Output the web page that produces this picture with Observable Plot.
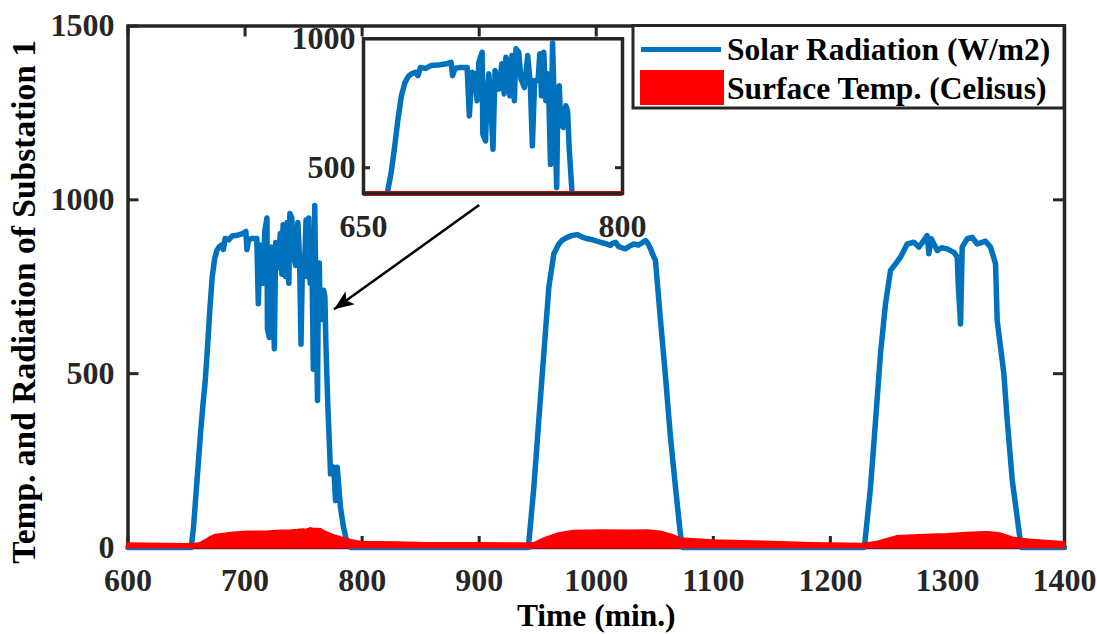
<!DOCTYPE html>
<html>
<head>
<meta charset="utf-8">
<script src="https://cdn.jsdelivr.net/npm/d3@7"></script>
<script src="https://cdn.jsdelivr.net/npm/@observablehq/plot@0.6"></script>
<style>
  html, body { margin: 0; padding: 0; background: #fff; overflow: hidden; }
  #wrap { position: relative; width: 1097px; height: 634px; }
  #inset { position: absolute; left: 280px; top: 10px; }
</style>
</head>
<body>
<div id="wrap"><div id="main"></div><div id="inset"></div></div>
<script>
// ---- data: solar radiation (W/m2) over time (min.) ----
const solarTime = [
  600, 654, 656, 658, 660, 662, 664, 666, 668, 670, 672, 674, 676, 678, 680, 681.5, 683, 686, 689, 693,
  698, 700.7, 701.6, 703, 706, 710, 711.3, 712.9, 714.4, 715.8, 716.8, 718.7, 719.1, 720.7, 721.7, 722.6,
  723.6, 725, 726.2, 727.2, 728.5, 730.1, 731.5, 732.5, 734, 734.8, 736, 737.4, 738.3, 739.9, 741.2, 743.2,
  745.1, 746.6, 747.8, 749.1, 751.1, 752.1, 753.1, 754.4, 755.6, 757, 758.3, 759.5, 760.9, 761.9, 762.5,
  763.4, 764.2, 765.8, 767.2, 768.2, 769.1, 770.7, 772, 773, 775.8, 777.3, 778.7, 781.5, 784, 786, 788, 790,
  942, 946.7, 950.9, 955.2, 959.5, 963.8, 968, 971, 975.2, 979, 983.7, 988, 992.3, 997, 1003.6, 1008, 1012.2,
  1014, 1016.5, 1019, 1022, 1025, 1028, 1032.1, 1036, 1040, 1042.1, 1044, 1046.4, 1048, 1050.6, 1054.9,
  1059.2, 1063.4, 1067.7, 1072, 1074,
  1229, 1234.3, 1238.6, 1242.8, 1247.1, 1251.4, 1255.7, 1259.9, 1265.6, 1271.3, 1275.6, 1279.8, 1282.7,
  1284.1, 1286.2, 1291.3, 1295, 1299.8, 1305.5, 1308.4, 1309.2, 1311.2, 1312.6, 1316.9, 1321.2, 1325.4,
  1332.5, 1336.8, 1341.1, 1342.5, 1348.2, 1351.1, 1355.4, 1361.8, 1363, 1400
];
const solarValue = [
  0, 0, 60, 150, 240, 330, 410, 480, 580, 690, 780, 830, 855, 865, 870, 857, 889, 885, 896, 898,
  903, 909, 857, 885, 889, 889, 701, 870, 864, 760, 909, 948, 630, 604, 811, 864,
  773, 572, 877, 825, 805, 903, 786, 928, 903, 779, 935, 760, 961, 948, 844, 811,
  935, 825, 585, 838, 838, 942, 779, 948, 760, 864, 513, 984, 643, 423, 734,
  818, 669, 656, 740, 721, 578, 409, 300, 212, 231, 135, 231, 116, 60, 30, 10, 0,
  0, 173, 365, 557, 749, 845, 873, 884, 892, 897, 900, 893, 888, 885, 878, 874, 869,
  875, 878, 866, 862, 859, 866, 873, 870, 878, 883, 875, 859, 845, 825, 653,
  490, 317, 173, 35, 0,
  0, 173, 365, 557, 701, 797, 816, 835, 873, 878, 864, 883, 897,
  845, 888, 854, 862, 859, 849, 835, 758, 643, 864, 888, 892, 873,
  881, 864, 816, 653, 500, 365, 193, 30, 0, 0
];

// ---- data: surface temperature (Celsius) over time (min.) ----
const tempTime = [
  600, 650, 656, 662, 670, 675, 690, 702, 720, 731, 740, 745, 750, 752, 756, 758, 762, 765, 768, 775,
  785, 795, 800, 830, 856, 900, 941, 948, 956, 968, 981, 1004, 1030, 1044, 1055, 1065, 1072, 1100,
  1150, 1185, 1228, 1240, 1257, 1280, 1300, 1320, 1335, 1345, 1356, 1370, 1400
];
const tempValue = [
  9, 7, 7, 10, 26, 34, 40, 43, 44, 46, 47, 48, 50, 48, 53, 52, 51, 50, 44, 34,
  24, 16, 14, 12, 10, 10, 9, 11, 24, 38, 45, 47, 46, 47, 43, 34, 24, 18,
  14, 10, 8, 14, 30, 34, 36, 40, 42, 38, 26, 20, 13
];

// ---- axes ----
const xTicks = [600, 700, 800, 900, 1000, 1100, 1200, 1300, 1400];
const yTicks = [0, 500, 1000, 1500];
const insetXTicks = [650, 800];
const insetYTicks = [500, 1000];

// ---- annotation arrow pointing from the zoom box to the first day ----
const arrowFrom = [900, 985];
const arrowTo = [776, 685];

const solar = solarTime.map((t, i) => ({t, v: solarValue[i]}));
const temp = tempTime.map((t, i) => ({t, v: tempValue[i]}));

const W = 1097, H = 634;
const mL = 127.5, mR = 33, mT = 25.5, mB = 87;
const innerW = W - mL - mR, innerH = H - mT - mB;
const tickLen = 11;
const axisColor = "#262626";
const blue = "#0072BD";
const font = "'Liberation Serif', 'Times New Roman', serif";
const tickFont = 32;
const plain = d => String(d);

const main = Plot.plot({
  width: W, height: H,
  marginLeft: mL, marginRight: mR, marginTop: mT, marginBottom: mB,
  style: `font-family: ${font}; font-weight: bold; background: transparent; color: ${axisColor}; overflow: visible;`,
  x: {domain: [600, 1400]},
  y: {domain: [0, 1500]},
  marks: [
    Plot.frame({stroke: axisColor, strokeWidth: 3.5}),
    // inward tick marks on all four sides
    Plot.ruleX(xTicks, {x: d => d, insetTop: innerH - tickLen, stroke: axisColor, strokeWidth: 3}),
    Plot.ruleX(xTicks, {x: d => d, insetBottom: innerH - tickLen, stroke: axisColor, strokeWidth: 3}),
    Plot.ruleY(yTicks, {y: d => d, insetRight: innerW - tickLen, stroke: axisColor, strokeWidth: 3}),
    Plot.ruleY(yTicks, {y: d => d, insetLeft: innerW - tickLen, stroke: axisColor, strokeWidth: 3}),
    Plot.lineY(solar, {x: "t", y: "v", stroke: blue, strokeWidth: 5.5, strokeLinejoin: "round", strokeLinecap: "round"}),
    Plot.areaY(temp, {x: "t", y: "v", fill: "#ff0000", stroke: "#ff0000", strokeWidth: 3}),
    Plot.axisX(xTicks, {tickSize: 0, tickPadding: 21, fontSize: tickFont, label: null, tickFormat: plain}),
    Plot.axisY(yTicks, {tickSize: 0, tickPadding: 13.5, fontSize: tickFont, label: null, tickFormat: plain}),
    Plot.text(["Time (min.)"], {frameAnchor: "bottom", lineAnchor: "middle", dy: 68, fontSize: 31.5, fill: "#000"}),
    Plot.text(["Temp. and Radiation of Substation 1"], {frameAnchor: "left", textAnchor: "middle", lineAnchor: "middle", rotate: -90, dx: -104, dy: 15, fontSize: 33.5, fill: "#000"}),
    Plot.link([{x1: arrowFrom[0], y1: arrowFrom[1], x2: arrowTo[0], y2: arrowTo[1]}],
      {x1: "x1", y1: "y1", x2: "x2", y2: "y2", stroke: "#000", strokeWidth: 2.5})
  ]
});
document.getElementById("main").appendChild(main);

// filled arrow head on the annotation
const svg = d3.select(main);
svg.append("defs").append("marker")
  .attr("id", "arrowHead")
  .attr("viewBox", "0 0 10 8")
  .attr("refX", 10).attr("refY", 4)
  .attr("markerUnits", "userSpaceOnUse")
  .attr("markerWidth", 22).attr("markerHeight", 16)
  .attr("orient", "auto")
  .append("path").attr("d", "M0,0L10,4L0,8L2.5,4Z").attr("fill", "#000");
svg.selectAll('g[aria-label="link"] path').attr("marker-end", "url(#arrowHead)");

// legend box
const lg = svg.append("g").attr("class", "legend").attr("text-anchor", "start");
lg.append("rect").attr("x", 633).attr("y", mT).attr("width", W - mR - 633).attr("height", 108 - mT)
  .attr("fill", "#fff").attr("stroke", axisColor).attr("stroke-width", 3);
lg.append("line").attr("x1", 641).attr("x2", 721).attr("y1", 49.5).attr("y2", 49.5)
  .attr("stroke", blue).attr("stroke-width", 5);
lg.append("rect").attr("x", 640).attr("y", 70).attr("width", 84).attr("height", 35).attr("fill", "#ff0000");
lg.append("text").attr("x", 727).attr("y", 59.5).attr("font-size", 31.5).attr("fill", "#000")
  .attr("font-family", font).attr("font-weight", "bold").text("Solar Radiation (W/m2)");
lg.append("text").attr("x", 727).attr("y", 98.5).attr("font-size", 31.5).attr("fill", "#000")
  .attr("font-family", font).attr("font-weight", "bold").text("Surface Temp. (Celisus)");

// zoomed view of the first day
const iW = 370, iH = 240;
const iL = 363 - 280, iR = 280 + iW - 622, iT = 38.3 - 10, iB = 10 + iH - 193;
const inset = Plot.plot({
  width: iW, height: iH,
  marginLeft: iL, marginRight: iR, marginTop: iT, marginBottom: iB,
  style: `font-family: ${font}; font-weight: bold; background: transparent; color: ${axisColor}; overflow: visible;`,
  x: {domain: [650, 800]},
  y: {domain: [400, 1000]},
  marks: [
    Plot.frame({fill: "#fff"}),
    Plot.lineY(solar, {x: "t", y: "v", stroke: blue, strokeWidth: 5.5, clip: true, strokeLinejoin: "round", strokeLinecap: "round"}),
    Plot.ruleY([400], {stroke: "#ff0000", strokeWidth: 5}),
    Plot.frame({stroke: axisColor, strokeWidth: 3.5}),
    Plot.ruleY([500], {y: d => d, insetRight: (iW - iL - iR) - 7, stroke: axisColor, strokeWidth: 3}),
    Plot.ruleY([500], {y: d => d, insetLeft: (iW - iL - iR) - 7, stroke: axisColor, strokeWidth: 3}),
    Plot.axisX(insetXTicks, {tickSize: 0, tickPadding: 21, fontSize: tickFont, label: null, tickFormat: plain}),
    Plot.axisY(insetYTicks, {tickSize: 0, tickPadding: 8, fontSize: tickFont, label: null, tickFormat: plain})
  ]
});
document.getElementById("inset").appendChild(inset);
</script>
</body>
</html>
